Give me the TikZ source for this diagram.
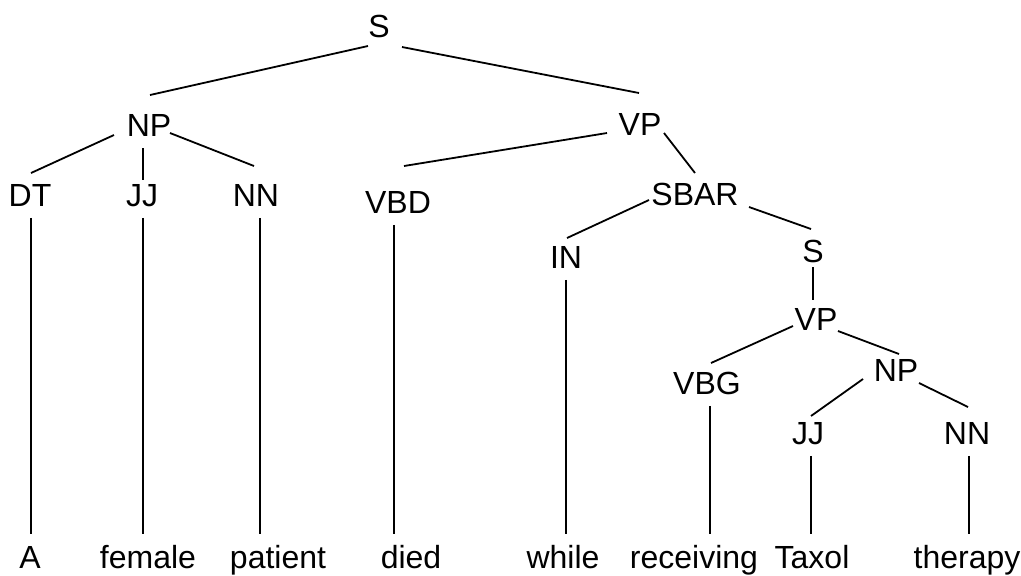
\documentclass[tikz,border=0pt]{standalone}
\usepackage{fontspec}
\setmainfont{Liberation Sans}
\usepackage{tikz}

\tikzset{
  cat/.style={font=\fontsize{16}{19}\selectfont, inner sep=5.5pt,
    text height=11.5pt, text depth=0pt},
  branch/.style={line width=0.9pt},
}

\begin{document}
\begin{tikzpicture}[x=0.5pt, y=-0.5pt]
  \useasboundingbox (0, 0) rectangle (1021, 575);

  % phrases
  \node[cat] (s1) at (379, 26) {S};
  \node[cat] (np1) at (149, 125) {NP};
  \node[cat] (vp1) at (640, 124) {VP};
  \node[cat] (sbar) at (695, 194) {SBAR};
  \node[cat] (s2) at (813, 251) {S};
  \node[cat] (vp2) at (816, 319) {VP};
  \node[cat] (np2) at (896, 370) {NP};

  % part of speech
  \node[cat] (dt) at (30, 195) {DT};
  \node[cat] (jj1) at (142, 195) {JJ};
  \node[cat] (nn1) at (256, 195) {NN};
  \node[cat] (vbd) at (398, 202) {VBD};
  \node[cat] (in) at (566, 257) {IN};
  \node[cat] (vbg) at (707, 383) {VBG};
  \node[cat] (jj2) at (808, 433) {JJ};
  \node[cat] (nn2) at (967, 433) {NN};

  % words
  \foreach \n/\x/\t in {w1/30/A, w2/148/female, w3/278/patient, w4/411/died,
      w5/563/while, w6/694/receiving, w7/812/Taxol, w8/967/therapy} {
    \node[cat] (\n) at (\x, 557) {\t};
  }

  % branches (offsets from the node centres)
  \foreach \p/\c/\ax/\ay/\bx/\by in {
      s1/np1/-11/20/1/-30, s1/vp1/23/21/-1/-31,
      np1/dt/-35/10/1/-22, np1/jj1/-6/23/1/-15, np1/nn1/21/8/-2/-29,
      vp1/vbd/-33/9/6/-36, vp1/sbar/24/9/0/-21,
      sbar/in/-46/6/1/-19, sbar/s2/54/13/-2/-22,
      s2/vp2/0/16/-3/-19,
      vp2/vbg/-23/7/4/-20, vp2/np2/22/12/3/-16,
      np2/jj2/-33/9/3/-17, np2/nn2/23/13/1/-26} {
    \draw[branch] ([shift={(\ax,\ay)}]\p.center) -- ([shift={(\bx,\by)}]\c.center);
  }

  % down to the words
  \foreach \t/\w/\d in {dt/w1/1, jj1/w2/1, nn1/w3/4, vbd/w4/-4,
      in/w5/0, vbg/w6/3, jj2/w7/3, nn2/w8/2} {
    \draw[branch] ([shift={(\d,0)}]\t.south) -- ([shift={(\d,0)}]\t.south |- \w.north);
  }

\end{tikzpicture}
\end{document}
